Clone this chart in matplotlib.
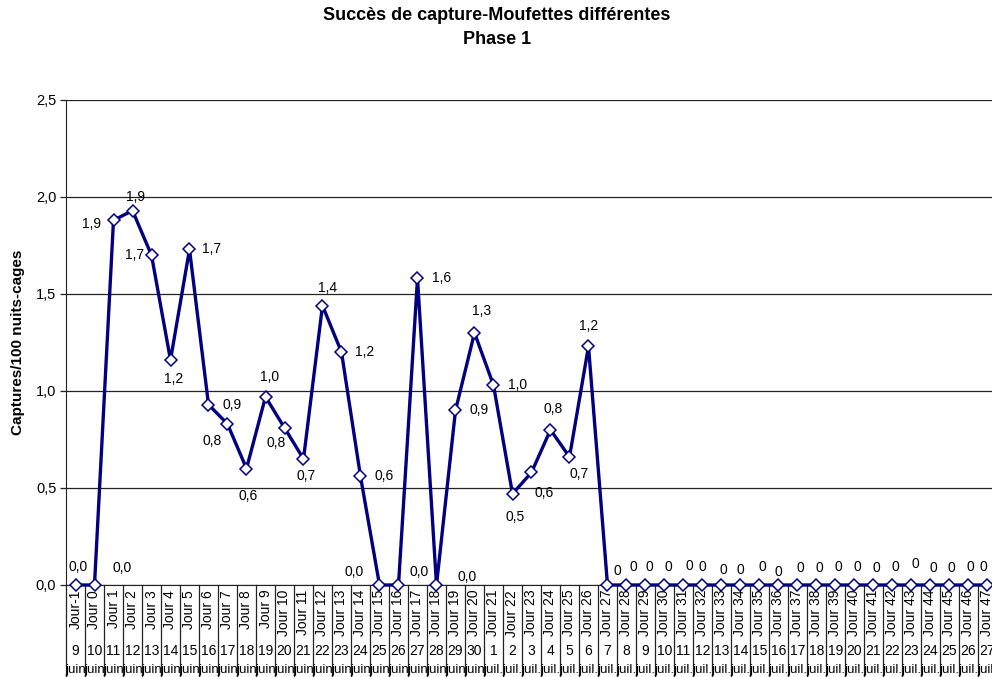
import numpy as np
import matplotlib.pyplot as plt
import matplotlib.transforms as mtransforms

plt.rcParams['font.family'] = ['Liberation Sans', 'DejaVu Sans']

# Données
jours = ['Jour-1'] + ['Jour %d' % j for j in range(0, 48)]
dates_jour = [str(d) for d in range(9, 31)] + [str(d) for d in range(1, 28)]
dates_mois = ['juin'] * 22 + ['juil.'] * 27
captures = [0.0, 0.0, 1.88, 1.93, 1.70, 1.16, 1.73, 0.93, 0.83, 0.60,
            0.97, 0.81, 0.65, 1.44, 1.20, 0.56, 0.0, 0.0, 1.58, 0.0,
            0.90, 1.30, 1.03, 0.47, 0.58, 0.80, 0.66, 1.23] + [0.0] * 21

# position des étiquettes (décalage en points, à la manière d'Excel)
decal = [(2, 13), (20, 12), (-16, -3), (2, 10), (-12, 0), (2, -14), (16, 0),
         (17, 0), (-11, -12), (1, -20), (3, 14), (-6, -11), (2, -12), (4, 13),
         (17, 0), (17, 0), (-18, 9), (15, 9), (17, 0), (22, 6), (17, 0),
         (5, 16), (17, 0), (2, -17), (9, -15), (2, 15), (7, -12), (0, 15),
         (7, 10), (5, 13), (3, 13), (3, 13), (4, 14), (0, 13), (1, 11),
         (0, 11), (2, 13), (0, 9), (2, 12), (2, 12), (2, 13), (2, 13),
         (2, 12), (2, 13), (3, 15), (2, 12), (1, 12), (1, 13), (-3, 13)]

x = np.arange(len(captures))

fig = plt.figure(figsize=(9.92, 6.77), dpi=100)
ax = fig.add_axes([66 / 992, 92 / 677, 931 / 992, 485 / 677])

ax.plot(x, captures, color='#000080', linewidth=2.4, marker='D',
        markersize=6, markerfacecolor='white', markeredgecolor='#000080',
        markeredgewidth=1.1, zorder=3, clip_on=False)

for i, v in enumerate(captures):
    # à partir du Jour 27 les étiquettes sont sans décimale
    txt = ('%.1f' % v).replace('.', ',') if i <= 27 else '%d' % round(v)
    ax.annotate(txt, (x[i], v), xytext=decal[i], textcoords='offset points',
                ha='center', va='center', fontsize=10, zorder=4)

ax.set_xlim(-0.5, len(captures) - 0.5)
ax.set_ylim(0, 2.5)
ax.set_yticks(np.arange(0, 2.51, 0.5))
ax.set_yticklabels([('%.1f' % t).replace('.', ',') for t in np.arange(0, 2.51, 0.5)],
                   fontsize=10.5)
ax.yaxis.grid(True, color='#222222', linewidth=0.9)
ax.set_axisbelow(True)
ax.tick_params(axis='y', length=4, width=0.9, color='#222222', pad=3)
ax.set_xticks([])
for s in ['top', 'right']:
    ax.spines[s].set_visible(False)
ax.spines['left'].set_color('#222222')
ax.spines['bottom'].set_color('#222222')

ax.set_ylabel('Captures/100 nuits-cages', fontsize=11, fontweight='bold', labelpad=8)

# étiquettes de catégorie à deux niveaux
trans = mtransforms.blended_transform_factory(ax.transData, ax.transAxes)
for i in range(len(captures)):
    ax.text(x[i], -0.01, jours[i], transform=trans, rotation=90,
            ha='center', va='top', fontsize=10)
    ax.text(x[i], -0.137, dates_jour[i], transform=trans,
            ha='center', va='center', fontsize=10)
    ax.text(x[i], -0.175, dates_mois[i], transform=trans,
            ha='center', va='center', fontsize=9.5)
for b in np.arange(-0.5, len(captures), 1.0):
    ax.plot([b, b], [0, -0.2], transform=trans, color='#222222',
            linewidth=0.9, clip_on=False)

fig.text(497 / 992, 1 - 16 / 677, 'Succès de capture-Moufettes différentes',
         ha='center', va='center', fontsize=13, fontweight='bold')
fig.text(497 / 992, 1 - 39 / 677, 'Phase 1',
         ha='center', va='center', fontsize=13, fontweight='bold')

fig.savefig('out.png', dpi=100)
